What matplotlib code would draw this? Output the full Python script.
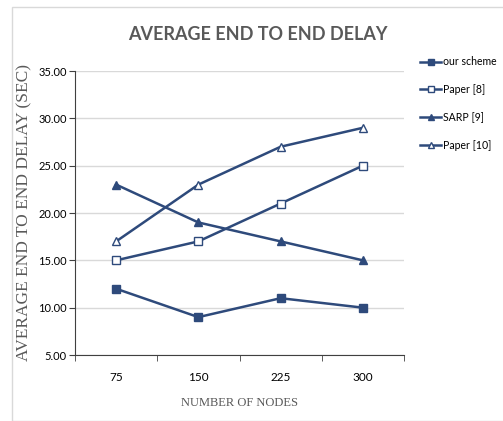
import matplotlib
matplotlib.use("Agg")
import matplotlib.pyplot as plt
from matplotlib.patches import Rectangle

# delay per scheme vs. network size
nodes = ["75", "150", "225", "300"]
our_scheme = [12, 9, 11, 10]
paper_8 = [15, 17, 21, 25]
sarp_9 = [23, 19, 17, 15]
paper_10 = [17, 23, 27, 29]

navy = "#2E4A7B"
grey_text = "#595959"
sans = ["Lato", "DejaVu Sans"]
serif = ["Liberation Serif", "DejaVu Serif"]

fig = plt.figure(figsize=(5.03, 4.21), dpi=100)
ax = fig.add_axes([75 / 503, 1 - 355 / 421, 329 / 503, 284 / 421])

# light frame round the whole chart
fig.patches.append(Rectangle((12 / 503, 0), 1, 1 - 7 / 421, transform=fig.transFigure,
                             fill=False, edgecolor="#d9d9d9", linewidth=1))

xs = range(len(nodes))
ax.plot(xs, our_scheme, color=navy, lw=1.8, marker="s", ms=5.5, mfc=navy, mec=navy, label="our scheme")
ax.plot(xs, paper_8, color=navy, lw=1.8, marker="s", ms=5.5, mfc="white", mec=navy, label="Paper [8]")
ax.plot(xs, sarp_9, color=navy, lw=1.8, marker="^", ms=6, mfc=navy, mec=navy, label="SARP [9]")
ax.plot(xs, paper_10, color=navy, lw=1.8, marker="^", ms=6, mfc="white", mec=navy, label="Paper [10]")

ax.set_xlim(-0.5, 3.5)
ax.set_ylim(5, 35)
ax.set_yticks(range(5, 36, 5))
ax.set_yticklabels([f"{v:.2f}" for v in range(5, 36, 5)], family=sans, fontsize=8)
ax.set_xticks(list(xs))
ax.set_xticklabels(nodes, family=sans, fontsize=8.5)
ax.set_xticks([-0.5, 0.5, 1.5, 2.5, 3.5], minor=True)
ax.tick_params(axis="x", which="major", length=0, pad=12)
ax.tick_params(axis="x", which="minor", length=4, color="#404040")
ax.tick_params(axis="y", length=4, color="#404040", pad=2)
ax.grid(axis="y", color="#d9d9d9", lw=1)
ax.set_axisbelow(True)
for side in ("top", "right"):
    ax.spines[side].set_visible(False)
ax.spines["left"].set_color("#404040")
ax.spines["bottom"].set_color("#404040")

ax.set_xlabel("NUMBER OF NODES", family=serif, fontsize=9, color=grey_text, labelpad=10)
ax.set_ylabel("AVERAGE END TO END DELAY (SEC)", family=serif, fontsize=12.5, color=grey_text)
ax.yaxis.set_label_coords(-0.128, 0.503)
fig.text(258 / 503, 1 - 35 / 421, "AVERAGE END TO END DELAY", family=sans, fontsize=13,
         fontweight="bold", color=grey_text, ha="center", va="center")

fig.legend(loc="upper left", bbox_to_anchor=(416 / 503, 1 - 52 / 421), frameon=False,
           prop={"family": sans, "size": 7.6}, labelspacing=1.6, handlelength=2.0,
           handletextpad=0.15, borderaxespad=0, markerscale=0.8)

fig.savefig("out.png", dpi=100)
